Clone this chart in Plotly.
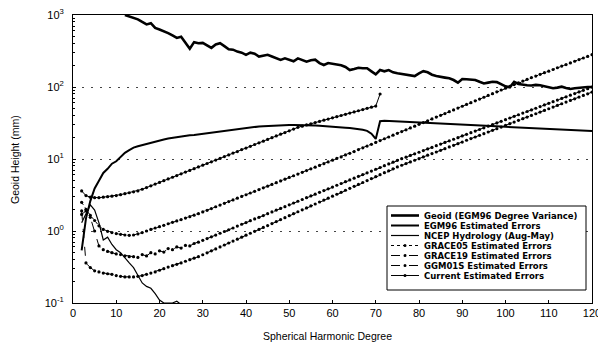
import plotly.graph_objects as go

# ---------------- data ----------------
geoid_deg = list(range(12, 121))
geoid_val = [1000, 950, 900, 870, 800, 740, 770, 660, 630, 600, 560, 520, 480, 500, 420, 340, 420, 405, 410,
             380, 350, 390, 405, 370, 335, 330, 310, 300, 280, 300, 290, 265, 270, 280, 265, 250, 238, 250, 240,
             228, 250, 240, 225, 235, 240, 215, 202, 215, 210, 202, 200, 190, 172, 178, 185, 182, 182, 165, 150,
             172, 165, 172, 160, 155, 152, 150, 145, 142, 155, 166, 160, 148, 142, 140, 135, 132, 125, 115, 129,
             128, 126, 125, 118, 112, 115, 118, 117, 108, 102, 99, 118, 110, 107, 106, 105, 107, 106, 103, 98,
             96, 98, 101, 97, 94, 96, 98, 99, 100, 100]

egm96_deg = list(range(2, 121))
egm96_val = [0.54, 1.5, 2.6, 3.9, 5.0, 6.4, 7.3, 8.6, 9.3, 10.6, 12.2, 13.3, 14.4, 15.0, 15.6, 16.2, 16.8, 17.5,
             18.2, 18.7, 19.2, 19.7, 20.1, 20.5, 20.9, 21.3, 21.6, 22.0, 22.4, 22.8, 23.3, 23.8, 24.3, 24.8, 25.3,
             25.8, 26.3, 26.8, 27.2, 27.6, 28.0, 28.3, 28.6, 28.9, 29.1, 29.3, 29.5, 29.6, 29.7, 29.7, 29.7, 29.6,
             29.5, 29.3, 29.1, 28.9, 28.7, 28.4, 28.1, 27.8, 27.5, 27.2, 26.9, 26.5, 26.1, 25.5, 24.6, 22.5, 19.0,
             33.5, 34.0, 33.8, 33.5, 33.2, 33.0, 32.8, 32.5, 32.3, 32.1, 31.9, 31.7, 31.4, 31.2, 31.0, 30.8, 30.6,
             30.4, 30.2, 30.0, 29.8, 29.6, 29.4, 29.2, 29.0, 28.8, 28.6, 28.4, 28.2, 28.0, 27.8, 27.6, 27.4, 27.2,
             27.0, 26.8, 26.6, 26.4, 26.2, 26.0, 25.8, 25.6, 25.5, 25.3, 25.2, 25.0, 24.9, 24.8, 24.6, 24.5]

ncep_deg = list(range(2, 27))
ncep_val = [1.3, 1.7, 2.3, 1.95, 1.3, 0.75, 0.82, 0.65, 0.55, 0.5, 0.42, 0.36, 0.31, 0.24, 0.19, 0.17, 0.16,
            0.135, 0.11, 0.1, 0.1, 0.1, 0.106, 0.095, 0.08]

grace05_deg = list(range(2, 121))
grace05_val = [2.5, 2.0, 1.65, 1.4, 1.18, 1.05, 0.99, 0.95, 0.92, 0.9, 0.88, 0.87, 0.88, 0.91, 0.95, 1.0, 1.05,
               1.1, 1.15, 1.2, 1.26, 1.32, 1.38, 1.44, 1.51, 1.58, 1.66, 1.74, 1.84, 1.94, 2.05, 2.17, 2.29, 2.42,
               2.56, 2.70, 2.86, 3.02, 3.19, 3.37, 3.56, 3.76, 3.98, 4.20, 4.44, 4.69, 4.96, 5.24, 5.54, 5.85,
               6.18, 6.54, 6.91, 7.30, 7.71, 8.15, 8.61, 9.10, 9.62, 10.2, 10.7, 11.4, 12.0, 12.7, 13.5, 14.3,
               15.1, 16.0, 17.0, 18.0, 19.1, 20.2, 21.4, 22.7, 24.0, 25.4, 27.0, 28.6, 30.3, 32.1, 34.0, 36.0,
               38.2, 40.4, 42.8, 45.4, 48.1, 51.0, 54.0, 57.2, 60.6, 64.2, 68.0, 72.1, 76.4, 80.9, 85.7, 90.8,
               96.2, 102, 108, 114, 121, 128, 135, 142, 150, 158, 166, 175, 185, 195, 205, 216, 228, 240, 253,
               266, 281]

grace19_deg = list(range(2, 121))
grace19_val = [1.7, 1.9, 1.55, 1.0, 0.62, 0.55, 0.52, 0.5, 0.48, 0.47, 0.45, 0.44, 0.44, 0.43, 0.47, 0.45, 0.5,
               0.48, 0.53, 0.51, 0.57, 0.55, 0.6, 0.58, 0.63, 0.62, 0.67, 0.70, 0.741, 0.784, 0.830, 0.879, 0.930,
               0.984, 1.04, 1.10, 1.17, 1.24, 1.31, 1.39, 1.47, 1.55, 1.64, 1.74, 1.84, 1.95, 2.06, 2.18, 2.31,
               2.45, 2.59, 2.74, 2.90, 3.07, 3.25, 3.44, 3.64, 3.85, 4.08, 4.32, 4.57, 4.84, 5.12, 5.42, 5.74,
               6.07, 6.43, 6.80, 7.20, 7.62, 8.07, 8.54, 9.04, 9.57, 10.1, 10.6, 11.2, 11.8, 12.4, 13.1, 13.8,
               14.5, 15.3, 16.1, 17.0, 17.9, 18.8, 19.8, 20.9, 22.0, 23.2, 24.4, 25.7, 27.1, 28.6, 30.1, 31.7,
               33.4, 35.2, 37.1, 39.1, 41.2, 43.4, 45.7, 48.1, 50.7, 53.4, 56.3, 59.3, 62.5, 65.8, 69.3, 73.0,
               76.9, 81.0, 85.4, 90.0, 94.8, 99.9]

ggm01s_deg = list(range(2, 121))
ggm01s_val = [1.9, 0.36, 0.31, 0.28, 0.27, 0.26, 0.255, 0.25, 0.24, 0.235, 0.23, 0.23, 0.23, 0.235, 0.24, 0.25,
              0.26, 0.27, 0.285, 0.3, 0.315, 0.33, 0.345, 0.36, 0.38, 0.4, 0.42, 0.44, 0.468, 0.498, 0.530,
              0.564, 0.601, 0.639, 0.681, 0.724, 0.771, 0.821, 0.874, 0.930, 0.990, 1.05, 1.12, 1.19, 1.27, 1.35,
              1.44, 1.53, 1.63, 1.74, 1.85, 1.97, 2.09, 2.23, 2.37, 2.53, 2.69, 2.86, 3.05, 3.24, 3.45, 3.68,
              3.91, 4.17, 4.43, 4.72, 5.02, 5.35, 5.69, 6.06, 6.45, 6.86, 7.30, 7.77, 8.19, 8.64, 9.11, 9.61,
              10.1, 10.7, 11.3, 11.9, 12.5, 13.2, 13.9, 14.7, 15.5, 16.3, 17.2, 18.2, 19.2, 20.2, 21.3, 22.5,
              23.7, 25.0, 26.4, 27.8, 29.3, 30.9, 32.6, 34.4, 36.3, 38.2, 40.3, 42.5, 44.8, 47.3, 49.9, 52.6,
              55.5, 58.5, 61.7, 65.1, 68.6, 72.4, 76.3, 80.5, 84.9]

current_deg = list(range(2, 72))
current_val = [3.6, 3.1, 2.95, 2.9, 2.9, 2.95, 3.0, 3.05, 3.1, 3.2, 3.3, 3.4, 3.5, 3.6, 3.80, 4.01, 4.24, 4.48,
               4.73, 5.00, 5.28, 5.58, 5.89, 6.23, 6.58, 6.95, 7.34, 7.76, 8.20, 8.66, 9.15, 9.67, 10.2, 10.8,
               11.4, 12.1, 12.7, 13.5, 14.2, 15.0, 15.9, 16.8, 17.7, 18.7, 19.8, 20.9, 22.1, 23.3, 24.6, 26.0,
               27.5, 28.6, 29.7, 30.8, 32.1, 33.3, 34.6, 35.9, 37.3, 38.7, 40.2, 41.8, 43.4, 45.1, 46.8, 48.6,
               50.5, 52.4, 54.4, 80.0]

legend_labels = ["Geoid (EGM96 Degree Variance)", "EGM96 Estimated Errors", "NCEP Hydrology (Aug-May)",
                 "GRACE05 Estimated Errors", "GRACE19 Estimated Errors", "GGM01S Estimated Errors",
                 "Current Estimated Errors"]

x_ticks = list(range(0, 121, 10))
y_tickvals = [0.1, 1, 10, 100, 1000]
y_ticktext = ["10<sup>-1</sup>", "10<sup>0</sup>", "10<sup>1</sup>", "10<sup>2</sup>", "10<sup>3</sup>"]
y_minor = [m * d for d in (0.1, 1, 10, 100) for m in range(2, 10)]

# ---------------- figure ----------------
OFF = 8  # default page body margin
PL, PR, PT, PB = 73, 592, 15, 303   # plot area in window pixels
W, H = 606 - OFF, 346 - OFF
L, T = PL - OFF, PT - OFF
R, B = W - (PR - OFF), H - (PB - OFF)
PW, PH = PR - PL, PB - PT


def px(xp):
    return (xp - PL) / PW


def py(yp):
    return (PB - yp) / PH


FONT = "Liberation Sans, Arial, sans-serif"
fig = go.Figure()

styles = [
    dict(x=geoid_deg, y=geoid_val, line=dict(color="black", width=2.6), mode="lines"),
    dict(x=egm96_deg, y=egm96_val, line=dict(color="black", width=2), mode="lines"),
    dict(x=ncep_deg, y=ncep_val, line=dict(color="black", width=1.2), mode="lines"),
    dict(x=grace05_deg, y=grace05_val, line=dict(color="black", width=1, dash="dot"), mode="lines+markers"),
    dict(x=grace19_deg, y=grace19_val, line=dict(color="black", width=1, dash="dash"), mode="lines+markers"),
    dict(x=ggm01s_deg, y=ggm01s_val, line=dict(color="black", width=1, dash="dash"), mode="lines+markers"),
    dict(x=current_deg, y=current_val, line=dict(color="black", width=1), mode="lines+markers"),
]
for name, st in zip(legend_labels, styles):
    fig.add_trace(go.Scatter(name=name, x=st["x"], y=st["y"], mode=st["mode"], line=st["line"],
                             marker=dict(symbol="circle", size=3.2, color="black"), showlegend=False))

fig.update_layout(
    width=W, height=H, margin=dict(l=L, r=R, t=T, b=B, autoexpand=False),
    paper_bgcolor="white", plot_bgcolor="white",
    font=dict(family=FONT, color="black", size=11),
    xaxis=dict(range=[0, 120], tickvals=x_ticks, showgrid=False, zeroline=False, automargin=False,
               showline=True, linecolor="black", linewidth=1, mirror=True, ticklabeloverflow="allow",
               ticks="inside", ticklen=3, tickcolor="black", tickfont=dict(size=11)),
    yaxis=dict(type="log", range=[-1, 3], tickvals=y_tickvals, ticktext=y_ticktext, automargin=False,
               showgrid=True, gridcolor="#444", gridwidth=1, griddash="2px,7px", ticklabeloverflow="allow",
               zeroline=False, showline=True, linecolor="black", linewidth=1, mirror=True,
               ticks="inside", ticklen=3, tickcolor="black", tickfont=dict(size=11), ticklabelstandoff=6,
               minor=dict(tickvals=y_minor, ticks="inside", ticklen=2, tickcolor="black", showgrid=False)),
    showlegend=False,
)

# axis titles
fig.add_annotation(x=px(327), y=py(336), xref="paper", yref="paper", text="Spherical Harmonic Degree",
                   showarrow=False, font=dict(size=10.5), xanchor="center", yanchor="middle")
fig.add_annotation(x=px(15), y=py(160), xref="paper", yref="paper", text="Geoid Height (mm)", textangle=-90,
                   showarrow=False, font=dict(size=10.5), xanchor="center", yanchor="middle")

# custom legend box
box_l, box_r, box_t, box_b = 387, 586, 206, 290
fig.add_shape(type="rect", xref="paper", yref="paper", x0=px(box_l), x1=px(box_r), y0=py(box_b), y1=py(box_t),
              line=dict(color="black", width=1), fillcolor="white", layer="above")
row0, step = 215.5, 10.0
for i, (name, st) in enumerate(zip(legend_labels, styles)):
    yc = row0 + i * step
    fig.add_shape(type="line", xref="paper", yref="paper", x0=px(391), x1=px(419), y0=py(yc), y1=py(yc),
                  line=dict(color="black", width=st["line"]["width"], dash=st["line"].get("dash", "solid")),
                  layer="above")
    if "markers" in st["mode"]:
        fig.add_shape(type="circle", xref="paper", yref="paper", x0=px(403.5), x1=px(406.5),
                      y0=py(yc + 1.5), y1=py(yc - 1.5), fillcolor="black", line=dict(width=0), layer="above")
    fig.add_annotation(x=px(423), y=py(yc), xref="paper", yref="paper", text="<b>%s</b>" % name,
                       showarrow=False, xanchor="left", yanchor="middle", borderpad=0,
                       font=dict(size=8.5, family="DejaVu Sans, sans-serif"))

fig.write_html("out.html")
